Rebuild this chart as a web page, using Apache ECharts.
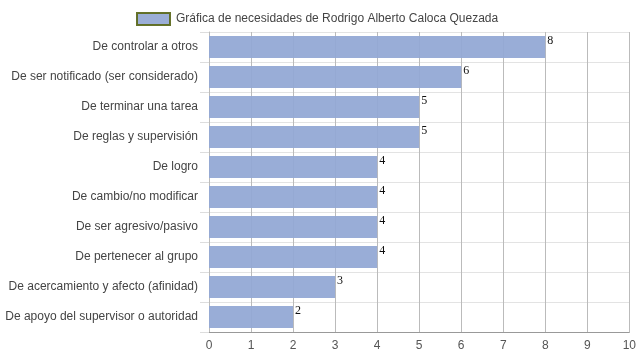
<!DOCTYPE html>
<html>
<head>
<meta charset="utf-8">
<script src="https://cdn.jsdelivr.net/npm/echarts@6/dist/echarts.min.js"></script>
<style>html,body{margin:0;padding:0;background:#fff}#c{width:639px;height:360px}</style>
</head>
<body>
<div id="c"></div>
<script>
const categories = [
  "De controlar a otros",
  "De ser notificado (ser considerado)",
  "De terminar una tarea",
  "De reglas y supervisión",
  "De logro",
  "De cambio/no modificar",
  "De ser agresivo/pasivo",
  "De pertenecer al grupo",
  "De acercamiento y afecto (afinidad)",
  "De apoyo del supervisor o autoridad"
];
const values = [8, 6, 5, 5, 4, 4, 4, 4, 3, 2];
const seriesName = "Gráfica de necesidades de Rodrigo Alberto Caloca Quezada";

const chart = echarts.init(document.getElementById('c'), null, {renderer: 'canvas'});
chart.setOption({
  animation: false,
  backgroundColor: '#fff',
  legend: {
    top: 7,
    left: 131,
    icon: 'rect',
    itemWidth: 33,
    itemHeight: 12,
    itemGap: 8,
    textStyle: {fontFamily: 'Liberation Sans, Arial, sans-serif', fontSize: 12, color: '#444', padding: [0, 0, 0, 1]},
    data: [{name: seriesName, itemStyle: {color: '#95a9d4', borderColor: '#5c6a1e', borderWidth: 2}}]
  },
  grid: {left: 209, right: 9, top: 32, bottom: 28, containLabel: false},
  xAxis: {
    type: 'value', min: 0, max: 10, interval: 1,
    axisLine: {show: true, lineStyle: {color: '#999'}},
    axisTick: {show: false},
    splitLine: {show: true, lineStyle: {color: '#bbb'}},
    axisLabel: {fontFamily: 'Liberation Sans, Arial, sans-serif', fontSize: 12, color: '#555', margin: 8}
  },
  yAxis: {
    type: 'category', data: categories, inverse: true,
    axisLine: {show: true, lineStyle: {color: '#bbb'}},
    axisTick: {show: true, length: 9, lineStyle: {color: '#ddd'}},
    splitLine: {show: true, lineStyle: {color: '#e3e3e3'}},
    axisLabel: {fontFamily: 'Liberation Sans, Arial, sans-serif', fontSize: 12, color: '#444', margin: 11}
  },
  series: [{
    name: seriesName,
    type: 'bar',
    data: values,
    barCategoryGap: '27%',
    itemStyle: {color: '#93a8d4', opacity: 0.94},
    label: {
      show: true, position: 'right', distance: 2, offset: [0, -6],
      fontFamily: 'Liberation Serif, Times New Roman, serif', fontSize: 12, color: '#000'
    }
  }]
});
</script>
</body>
</html>
